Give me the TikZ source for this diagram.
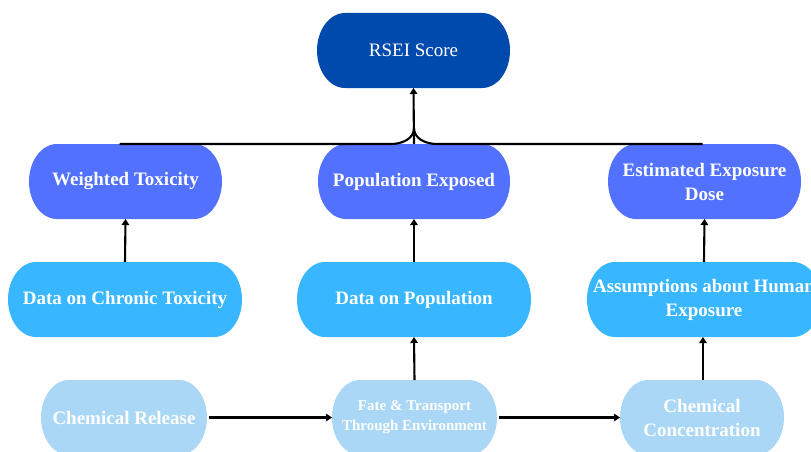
\documentclass[tikz,border=0pt]{standalone}
\usepackage{fontspec}
\setmainfont{Liberation Serif}
\usetikzlibrary{arrows.meta,backgrounds}
\definecolor{cdark}{RGB}{0,74,173}
\definecolor{cmid}{RGB}{82,113,255}
\definecolor{csky}{RGB}{56,182,255}
\definecolor{clight}{RGB}{170,215,245}
\tikzset{
  box/.style={rectangle,inner sep=0pt,outer sep=0pt,minimum height=75pt,
    align=center,text=white,font=\bfseries\fontsize{19}{24}\selectfont},
  smalltext/.style={font=\bfseries\fontsize{15}{20}\selectfont},
  conn/.style={line width=2.1pt,black},
  arr/.style={conn,-{Triangle[length=6pt,width=7.5pt]}},
  harr/.style={arr,line width=2.6pt},
}
\newcommand\pillfill[2]{%
  \fill[#2] ([xshift=28pt]#1.north west) -- ([xshift=-28pt]#1.north east)
    arc[start angle=90,end angle=-90,x radius=28pt,y radius=37.5pt]
    -- ([xshift=28pt]#1.south west)
    arc[start angle=270,end angle=90,x radius=28pt,y radius=37.5pt] -- cycle;}
\begin{document}
\begin{tikzpicture}[x=1pt,y=1pt]
\useasboundingbox (0,0) rectangle (811,451);
\clip (0,0) rectangle (811,451);
% nodes
\node[box,minimum width=193pt,font=\fontsize{19}{24}\selectfont] (rsei) at (413.5,400.5) {RSEI Score};
\node[box,minimum width=193pt] (wt) at (125.5,269.5) {Weighted Toxicity};
\node[box,minimum width=192pt] (pe) at (414,269.5) {Population Exposed};
\node[box,minimum width=193pt] (ed) at (704.5,269.5) {Estimated Exposure\\Dose};
\node[box,minimum width=234pt] (dct) at (125,151.5) {Data on Chronic Toxicity};
\node[box,minimum width=234pt] (dp) at (414,151.5) {Data on Population};
\node[box,minimum width=234pt] (ah) at (704,151.5) {Assumptions about Human\\Exposure};
\node[box,minimum width=166pt] (cr) at (124,33.5) {Chemical Release};
\node[box,smalltext,minimum width=165pt] (ft) at (414.5,33.5) {Fate \& Transport\\Through Environment};
\node[box,minimum width=164pt] (cc) at (702,33.5) {Chemical\\Concentration};
% backgrounds
\begin{scope}[on background layer]
\fill[white] (0,0) rectangle (811,451);
\pillfill{rsei}{cdark}
\pillfill{wt}{cmid}\pillfill{pe}{cmid}\pillfill{ed}{cmid}
\pillfill{dct}{csky}\pillfill{dp}{csky}\pillfill{ah}{csky}
\pillfill{cr}{clight}\pillfill{ft}{clight}\pillfill{cc}{clight}
\end{scope}
% merge connector
\coordinate (merge) at ([yshift=16pt]pe.north);
\draw[conn] ([xshift=-6pt]wt.north) -- ([xshift=-23pt]pe.north) to[out=0,in=-90] (merge);
\draw[conn] ([xshift=-2pt]ed.north) -- ([xshift=23pt]pe.north) to[out=180,in=-90] (merge);
\draw[arr] (pe.north) -- (rsei.south);
% vertical arrows
\draw[arr] (dct.north) -- (wt.south);
\draw[arr] (dp.north) -- (pe.south);
\draw[arr] (ah.north) -- (ed.south);
\draw[arr] (ft.north) -- (dp.south);
\draw[arr] ([xshift=1pt]cc.north) -- ([xshift=1pt]cc.north |- ah.south);
% horizontal arrows
\draw[harr] ([xshift=2pt]cr.east) -- (ft.west);
\draw[harr] ([xshift=2pt]ft.east) -- (cc.west);
\end{tikzpicture}
\end{document}
